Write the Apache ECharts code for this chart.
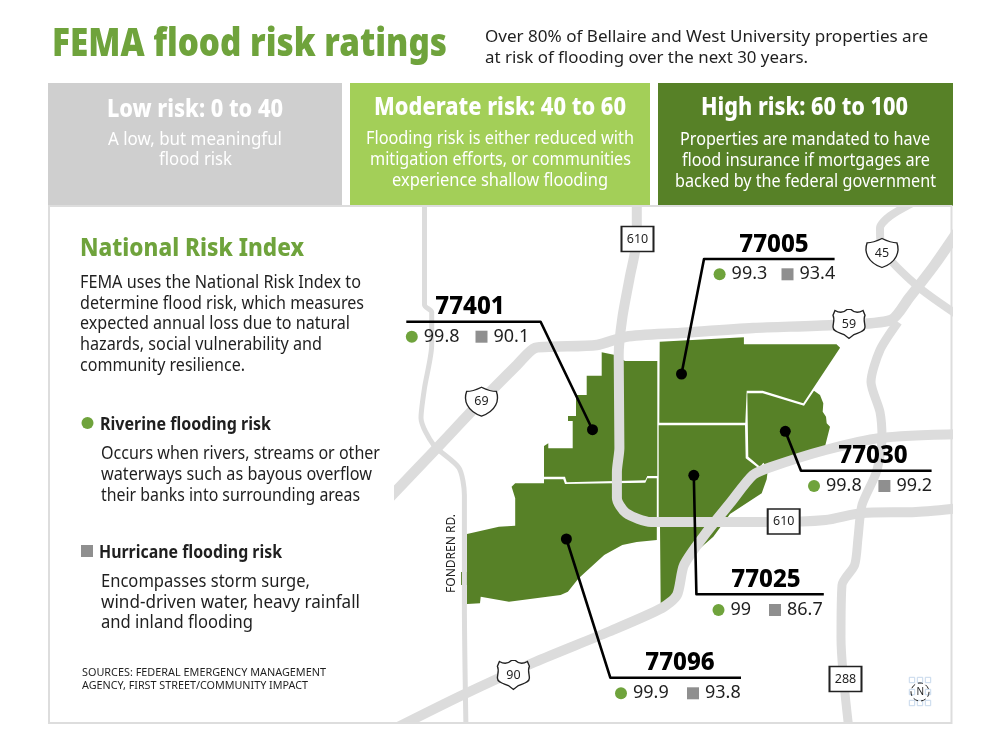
<!DOCTYPE html>
<html><head><meta charset="utf-8">
<style>html,body{margin:0;padding:0;background:#fff}#c{width:1000px;height:750px}</style>
<script src="https://cdn.jsdelivr.net/npm/echarts@6/dist/echarts.min.js"></script></head>
<body><div id="c"></div>
<script>
// ---- chart values ----
const zips = ['77005','77401','77030','77025','77096'];
const riverine = [99.3, 99.8, 99.8, 99, 99.9];
const hurricane = [93.4, 90.1, 99.2, 86.7, 93.8];
const riskBands = ['Low risk: 0 to 40','Moderate risk: 40 to 60','High risk: 60 to 100'];
const highways = ['610','610','288','45','69','59','90'];

// ---- map geometry, in map units ----
const zoneShapes = {
 '77005':[[659.7,341.7],[743.9,337.3],[743.9,344.3],[836.5,344.3],[840.1,347.7],[803.3,403.3],[762.7,390.7],[746.7,390.7],[745.3,422.7],[659.3,422.7]],
 '77401':[[601.7,352.3],[615,355],[625,361],[657.3,361],[657.3,476],[647.3,476],[645.3,480.3],[566.7,482.3],[565,476.7],[544,476.7],[544,446],[548.3,443.3],[548.3,448.3],[572.7,448.3],[572.7,421],[568,421],[568,416],[576,416],[576,395],[586.7,395],[586.7,375.7],[601.7,375.7]],
 '77030':[[747.3,393.3],[762.7,393.3],[804,405.7],[814,390.7],[820,395],[823.3,403.3],[822.7,411.7],[826,416.7],[826.7,423.3],[830,426.7],[823.3,453.3],[766.7,466.7],[763.3,462.7],[760,466.7],[748.3,456.7]],
 '77025':[[658.7,425.3],[745,425.3],[745.7,458.3],[760,469.3],[762.7,466],[768.3,466],[766.7,479.3],[761.7,493.3],[730,514],[713.3,536.7],[686.7,560],[676.7,580],[671.7,603.3],[660.7,605.7],[660,526.7],[658.7,516.7]],
 '77096':[[511.6,486.7],[515.2,498.3],[515.2,525.7],[498.9,526.7],[467,534],[467,572],[461,572],[461,585],[467,585],[467,604],[480,603.3],[480.7,596.7],[509,601.7],[560.6,595],[567.9,591.7],[578.7,578.3],[604.2,555],[622.3,545],[636.7,542],[656.8,540],[656.8,478.3],[647.3,478.3],[645.3,482.7],[565,484],[563.3,479.3],[544,479.3],[544,483.3],[515.2,483.3]]
};
const roadLoop610 = [[636.8,200],[636.8,238],[629.6,278],[622.3,318],[618.7,355],[619.4,448],[616.9,472],[616.9,498],[626,513],[651,522],[716.7,522],[771,522],[825.6,520],[862,513],[916,512],[962,508]];
const road69 = [[376,512],[437,448],[480.7,401.7],[517,365],[535,348],[553.3,346.7],[597,345],[626,336.7],[680.4,333],[753,328],[832.8,325],[891,320],[909,298],[934.5,265],[962,225]];
const road45 = [[918,200],[890,216],[880,228],[881,246],[916,285],[962,318]];
const road288 = [[898,322],[880,350],[871,382],[880,412],[882,438],[876.4,472],[862,505],[858,538],[854.6,565],[842,585],[841,638],[849,730]];
const road90 = [[962,434],[880,438],[825.6,450],[771,467],[753,475],[731,502],[706,533],[684,565],[677,595],[662,608],[608,632],[535,662],[462.6,695],[392,730]];
const roadFondren = [[424.5,200],[424.5,305],[431.7,312],[431.7,345],[424.5,388],[421,418],[433.6,445],[459,468],[464.4,495],[464.4,605],[466,730]];
const leaders = {
 '77005':[[681.5,374],[704,259],[834.6,259]],
 '77401':[[592.5,429.7],[540.6,321.7],[406.3,321.7]],
 '77030':[[785.3,431.3],[801,470.7],[931.6,470.7]],
 '77025':[[693.8,475.3],[696.4,594.3],[823.8,594.3]],
 '77096':[[566.4,539],[610.3,677.7],[741,677.7]]
};
const zipAnchors = {'77005':[774,245],'77401':[470,307],'77030':[873,456],'77025':[766,580],'77096':[680,663]};
const riverineAnchors = [[719.6,274.3],[411.8,336.7],[814,486],[718.5,610],[621,693.3]];
const hurricaneAnchors = [[787.5,274.3],[481.5,336.7],[884.4,486],[775,610],[693,693.3]];
const highwayAnchors = [[637.5,239],[783.7,521.5],[845.5,679],[882,253],[481.5,401.7],[849,324],[513.4,675]];
const highwayKinds = ['box','box','box','i','i','us','us'];

const GREEN='#6fa33c', DARK='#578127', MID='#a3cf58', GREY='#cfcfcf', SQ='#8f8f8f', ROAD='#dcdcdc', INK='#1f1f1f';
const FONT='"Noto Sans"';
const mctx=document.createElement('canvas').getContext('2d');
function txt(s,x,y,size,weight,color,w,extra){
  mctx.font=weight+' '+size+'px '+FONT;
  const m=mctx.measureText(s).width;
  return Object.assign({type:'text',x:x,y:y+1,z:20,scaleX:w?w/m:1,silent:true,
    style:{text:s,fill:color,font:weight+' '+size+'px '+FONT,textAlign:'left',textVerticalAlign:'middle',textBaseline:'middle'}},extra||{});
}
const g=[];
// masks trimming the road network to the map panel
[[49,207,345,515],[953,200,47,550],[0,724,1000,26]].forEach(m=>g.push({type:'rect',z:9,shape:{x:m[0],y:m[1],width:m[2],height:m[3]},style:{fill:'#fff'}}));
[[48,294,GREY],[350,300,MID],[658,295,DARK]].forEach(b=>g.push({type:'rect',z:10,shape:{x:b[0],y:83,width:b[1],height:123},style:{fill:b[2]}}));
g.push({type:'rect',z:10,shape:{x:49,y:206,width:902.5,height:517},style:{fill:'none',stroke:'#dddddd',lineWidth:2}});
g.push(txt('FEMA flood risk ratings',52,44,38,'900',GREEN,395));
g.push(txt('Over 80% of Bellaire and West University properties are',485,36,17,'normal',INK,443));
g.push(txt('at risk of flooding over the next 30 years.',485,57,17,'normal',INK,323));
g.push(txt(riskBands[0],107,109,24,'800','#fff',176));
g.push(txt(riskBands[1],374,107,24,'800','#fff',252));
g.push(txt(riskBands[2],701,107,24,'800','#fff',207));
[['A low, but meaningful',108,139,174],['flood risk',159,159,73],
 ['Flooding risk is either reduced with',366,138,268],['mitigation efforts, or communities',370,159,261],['experience shallow flooding',392,180,216],
 ['Properties are mandated to have',680,139,250],['flood insurance if mortgages are',682,160,248],['backed by the federal government',675,181,261]
].forEach(a=>g.push(txt(a[0],a[1],a[2],18,'normal','#fff',a[3])));
g.push(txt('National Risk Index',80,248,25,'800',GREEN,224));
[['FEMA uses the National Risk Index to',80,282,281],['determine flood risk, which measures',80,303,284],['expected annual loss due to natural',80,323,270],['hazards, social vulnerability and',80,344,242],['community resilience.',80,365,165],
 ['Occurs when rivers, streams or other',101,453,279],['waterways such as bayous overflow',101,474,271],['their banks into surrounding areas',101,495,259],
 ['Encompasses storm surge,',101,581,209],['wind-driven water, heavy rainfall',101,602,259],['and inland flooding',101,622,152]
].forEach(a=>g.push(txt(a[0],a[1],a[2],17.5,'normal',INK,a[3])));
g.push({type:'circle',z:20,shape:{cx:87.5,cy:423,r:6},style:{fill:GREEN}});
g.push({type:'rect',z:20,shape:{x:81,y:545,width:12,height:12},style:{fill:SQ}});
g.push(txt('Riverine flooding risk',100,424,17,'bold',INK,171));
g.push(txt('Hurricane flooding risk',99,552,17,'bold',INK,183));
g.push(txt('SOURCES: FEDERAL EMERGENCY MANAGEMENT',82,672,11,'normal',INK,244));
g.push(txt('AGENCY, FIRST STREET/COMMUNITY IMPACT',82,685,11,'normal',INK,226));
g.push(txt('FONDREN RD.',451,592,12.5,'normal',INK,79,{rotation:Math.PI/2}));
// north marker
[[912,680],[920,680],[928,680],[912,692],[928,692],[912,703],[920,703],[928,703]].forEach(p=>g.push({type:'rect',z:20,shape:{x:p[0]-2.7,y:p[1]-2.7,width:5.4,height:5.4},style:{fill:'none',stroke:'#c6d8ec',lineWidth:1}}));
g.push({type:'circle',z:20,shape:{cx:920,cy:692,r:9},style:{fill:'none',stroke:'#222',lineWidth:1,lineDash:[5,3]}});
g.push(txt('N',916.5,691,10,'normal',INK));

function lineS(name,data,color,width,z){
  return {type:'line',name,data,showSymbol:false,symbol:'none',smooth:0,z,silent:true,clip:true,
    lineStyle:{color,width,cap:'butt',join:'round'},animation:false};
}
function smoothS(name,data,width){const s=lineS(name,data,ROAD,width,3);s.smooth=0.25;return s;}
const valLabel={show:true,position:'right',distance:6,color:INK,fontFamily:FONT,fontSize:18};
const series=[
 {type:'custom',name:'zones',z:2,silent:true,clip:false,data:zips.map((z,i)=>[i,i]),
  renderItem(p,api){return {type:'polygon',shape:{points:zoneShapes[zips[p.dataIndex]].map(c=>api.coord(c))},style:{fill:DARK}};}},
 smoothS('Fondren',roadFondren,5),smoothS('610',roadLoop610,10),smoothS('69/59',road69,10.5),
 smoothS('45',road45,8),smoothS('288',road288,9),smoothS('90',road90,10),
 ...zips.map(z=>lineS(z,leaders[z],'#000',2.6,5)),
 {type:'scatter',name:'anchors',z:6,silent:true,symbolSize:11,itemStyle:{color:'#000',opacity:1},data:zips.map(z=>leaders[z][0])},
 {type:'scatter',name:'riverine',z:6,silent:true,symbol:'circle',symbolSize:12,itemStyle:{color:GREEN,opacity:1},
  data:riverine.map((v,i)=>({value:riverineAnchors[i],label:Object.assign({},valLabel,{formatter:String(v)})}))},
 {type:'scatter',name:'hurricane',z:6,silent:true,symbol:'rect',symbolSize:12,itemStyle:{color:SQ,opacity:1},
  data:hurricane.map((v,i)=>({value:hurricaneAnchors[i],label:Object.assign({},valLabel,{formatter:String(v)})}))},
 {type:'scatter',name:'zipLabels',z:6,silent:true,symbolSize:1,itemStyle:{color:'rgba(0,0,0,0)',opacity:1},
  data:zips.map(z=>({value:zipAnchors[z],label:{show:true,position:'inside',formatter:z,color:'#000',fontFamily:FONT,fontWeight:800,fontSize:24}}))},
 {type:'scatter',name:'highways',z:7,silent:true,
  data:highways.map((h,i)=>{
    const k=highwayKinds[i];
    return {value:highwayAnchors[i],
      symbol:k==='box'?'rect':k==='i'?'path://M2 6C7 6 11 4 16 1C21 4 25 6 30 6C33 16 30 29 16 35C2 29 -1 16 2 6Z':'path://M3 3C8 6 12 5 15 2L19 2C22 5 26 6 31 3L33 8C31 12 33 16 33 20C33 25 26 26 22 28L17 32L12 28C8 26 1 25 1 20C1 16 3 12 1 8Z',
      symbolSize:k==='box'?[32,25]:[32,29],
      itemStyle:{color:'#fff',borderColor:'#222',borderWidth:k==='box'?1.8:1.3,opacity:1},
      label:{show:true,position:'inside',formatter:h,color:INK,fontFamily:FONT,fontSize:12.5}};
  })}
];
const chart=echarts.init(document.getElementById('c'),null,{renderer:'canvas',width:1000,height:750});
chart.setOption({
 animation:false,backgroundColor:'#fff',
 grid:{left:0,right:0,top:0,bottom:0,containLabel:false},
 xAxis:{type:'value',min:0,max:1000,show:false},
 yAxis:{type:'value',min:0,max:750,inverse:true,show:false},
 tooltip:{show:false},legend:{show:false},
 series,graphic:{elements:g}
});
</script></body></html>
